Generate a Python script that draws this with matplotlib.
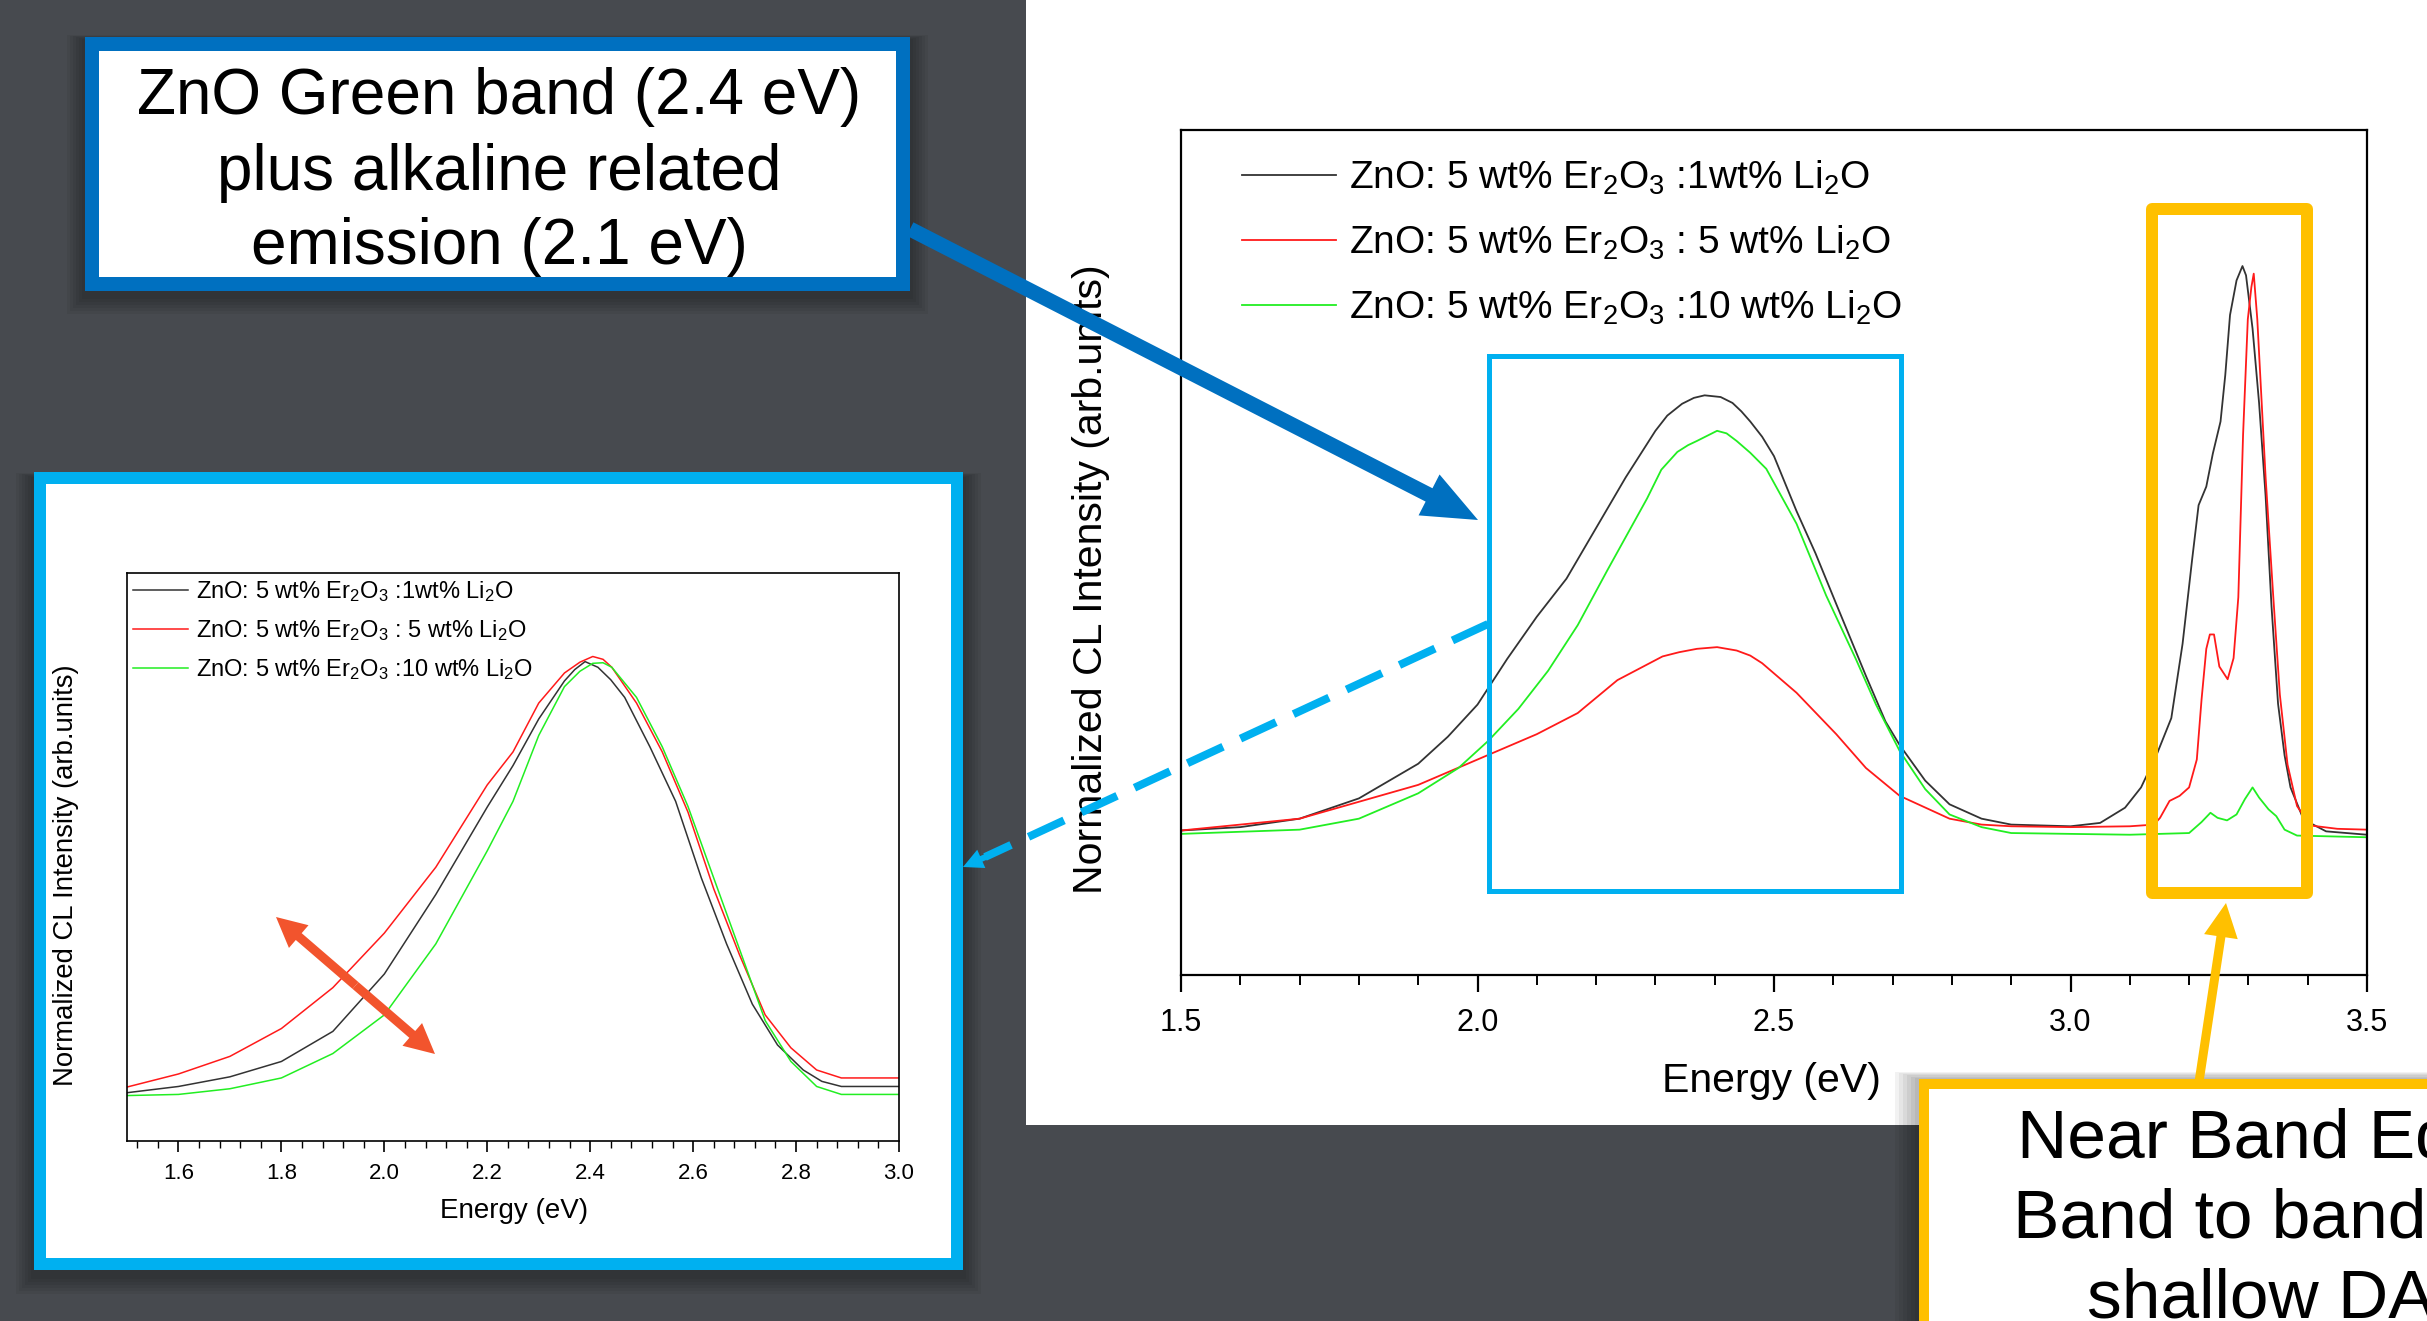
import matplotlib.pyplot as plt
from matplotlib.patches import Rectangle, FancyArrow
from matplotlib.ticker import MultipleLocator, AutoMinorLocator, FormatStrFormatter

plt.rcParams['font.family'] = ['Liberation Sans', 'DejaVu Sans']

W, H = 2427, 1321

# legend labels (same in both charts)
series_labels = [
    'ZnO: 5 wt% Er$\\mathregular{_2}$O$\\mathregular{_3}$ :1wt% Li$\\mathregular{_2}$O',
    'ZnO: 5 wt% Er$\\mathregular{_2}$O$\\mathregular{_3}$ : 5 wt% Li$\\mathregular{_2}$O',
    'ZnO: 5 wt% Er$\\mathregular{_2}$O$\\mathregular{_3}$ :10 wt% Li$\\mathregular{_2}$O',
]
series_colors = ['#333333', '#ff1a1a', '#22ee22']

# main chart, full range (normalized CL intensity, arb. units)
main_e_black = [1.50, 1.60, 1.70, 1.80, 1.90, 1.95, 2.00, 2.05, 2.10, 2.15, 2.20, 2.25, 2.30,
                2.32, 2.345, 2.365, 2.383, 2.41, 2.43, 2.445, 2.46, 2.48, 2.50, 2.538, 2.57,
                2.605, 2.655, 2.688, 2.712, 2.755, 2.796, 2.85, 2.90, 3.00, 3.05, 3.092, 3.119,
                3.146, 3.170, 3.189, 3.205, 3.216, 3.229, 3.240, 3.253, 3.261, 3.269, 3.280,
                3.290, 3.296, 3.307, 3.318, 3.329, 3.339, 3.350, 3.361, 3.371, 3.393, 3.431,
                3.50]
main_black = [.171, .175, .185, .209, .250, .282, .320, .374, .424, .469, .529, .589, .644,
              .662, .676, .683, .686, .684, .677, .667, .655, .637, .614, .549, .499,
              .439, .354, .300, .272, .230, .202, .185, .178, .176, .180, .198, .222,
              .262, .304, .392, .491, .556, .578, .617, .655, .710, .781, .822,
              .839, .828, .765, .677, .567, .436, .321, .260, .222, .184, .170,
              .166]

main_e_red = [1.50, 1.70, 1.80, 1.90, 2.00, 2.10, 2.169, 2.236, 2.312, 2.34, 2.37, 2.404, 2.437,
              2.46, 2.48, 2.538, 2.605, 2.655, 2.712, 2.796, 2.85, 2.90, 3.00, 3.10, 3.141,
              3.151, 3.167, 3.184, 3.200, 3.213, 3.221, 3.229, 3.235, 3.242, 3.251, 3.265,
              3.275, 3.283, 3.291, 3.299, 3.305, 3.309, 3.315, 3.329, 3.342, 3.353, 3.366,
              3.382, 3.404, 3.45, 3.50]
main_red = [.171, .185, .205, .225, .255, .285, .310, .349, .377, .382, .386, .388, .384,
            .378, .369, .334, .285, .245, .212, .185, .178, .176, .175, .176, .178,
            .186, .206, .212, .222, .255, .326, .386, .403, .403, .365, .350,
            .375, .447, .639, .776, .814, .830, .776, .589, .447, .332, .249,
            .200, .177, .173, .172]

main_e_green = [1.50, 1.70, 1.80, 1.90, 1.968, 2.018, 2.069, 2.119, 2.169, 2.219, 2.286, 2.31,
                2.337, 2.355, 2.37, 2.404, 2.42, 2.437, 2.46, 2.487, 2.538, 2.588, 2.638,
                2.672, 2.712, 2.755, 2.796, 2.85, 2.90, 3.10, 3.20, 3.221, 3.236, 3.248, 3.264,
                3.280, 3.294, 3.307, 3.318, 3.334, 3.347, 3.361, 3.382, 3.50]
main_green = [.167, .172, .185, .215, .245, .277, .315, .360, .414, .479, .564, .598,
              .619, .627, .632, .644, .641, .632, .618, .599, .534, .449, .374,
              .320, .265, .220, .190, .175, .168, .166, .168, .181, .192, .186, .183,
              .190, .208, .222, .210, .196, .188, .172, .165, .163]

# inset chart, green band only
inset_e_black = [1.5, 1.6, 1.7, 1.8, 1.9, 2.0, 2.1, 2.2, 2.25, 2.3, 2.35, 2.37, 2.39, 2.415,
                 2.44, 2.467, 2.516, 2.566, 2.616, 2.665, 2.715, 2.764, 2.814, 2.85, 2.888, 3.0]
inset_black = [.085, .096, .113, .140, .193, .294, .434, .588, .661, .743, .810, .830, .844,
               .834, .812, .781, .694, .598, .463, .347, .241, .169, .125, .105, .096, .096]
inset_e_red = [1.5, 1.6, 1.7, 1.8, 1.9, 2.0, 2.1, 2.2, 2.25, 2.3, 2.35, 2.38, 2.405, 2.425,
               2.442, 2.49, 2.54, 2.59, 2.64, 2.69, 2.74, 2.79, 2.84, 2.888, 3.0]
inset_red = [.095, .118, .149, .198, .270, .366, .482, .627, .685, .771, .824, .843, .853,
             .848, .834, .771, .685, .579, .444, .328, .222, .164, .125, .111, .111]
inset_e_green = [1.5, 1.6, 1.7, 1.8, 1.9, 2.0, 2.1, 2.2, 2.25, 2.3, 2.35, 2.38, 2.405, 2.425,
                 2.442, 2.49, 2.54, 2.59, 2.64, 2.69, 2.74, 2.79, 2.84, 2.888, 3.0]
inset_green = [.080, .082, .092, .111, .154, .222, .347, .511, .598, .714, .800, .827, .841,
               .842, .834, .781, .694, .589, .463, .338, .212, .140, .096, .082, .082]

callout_green = ['ZnO Green band (2.4 eV)', 'plus alkaline related', 'emission (2.1 eV)']
callout_nbe = ['Near Band Edge (NBE)', 'Band to band and', 'shallow DAP']

BLUE = '#0070c0'
CYAN = '#00b0f0'
ORANGE = '#ffc000'


def fax(l, t, r, b):
    # pixel box -> figure fraction
    return [l / W, 1 - b / H, (r - l) / W, (b - t) / H]


def px(v):
    return v * 0.72


def soft_shadow(axis, x, y, w, h, spread=18, steps=6):
    # stack of faint rectangles, fakes a blurred drop shadow
    for k in range(steps):
        g = spread * (steps - k) / steps
        axis.add_patch(Rectangle((x - g, y - g * 0.3), w + 2 * g, h + 1.3 * g,
                                 fc='black', ec='none', alpha=0.05))


fig = plt.figure(figsize=(W / 100, H / 100), dpi=100, facecolor='#474a4f')

bg = fig.add_axes([0, 0, 1, 1], zorder=0)
bg.set_xlim(0, W)
bg.set_ylim(H, 0)
bg.axis('off')
bg.add_patch(Rectangle((1026, 0), W - 1026, 1125, fc='white', ec='none'))
soft_shadow(bg, 34, 478, 929, 798)
bg.add_patch(Rectangle((40, 478), 917, 786, fc='white', ec=CYAN, lw=px(12)))

# ---- main chart ----
ax = fig.add_axes(fax(1181, 130, 2367, 975), zorder=2)
lines = []
for e, v, c in [(main_e_black, main_black, series_colors[0]),
                (main_e_red, main_red, series_colors[1]),
                (main_e_green, main_green, series_colors[2])]:
    ln, = ax.plot(e, v, color=c, lw=1.3)
    lines.append(ln)
ax.set_xlim(1.5, 3.5)
ax.set_ylim(0, 1)
ax.xaxis.set_major_locator(MultipleLocator(0.5))
ax.xaxis.set_minor_locator(MultipleLocator(0.1))
ax.xaxis.set_major_formatter(FormatStrFormatter('%.1f'))
ax.set_yticks([])
ax.tick_params(axis='x', which='major', direction='out', length=12, width=1.6, labelsize=22, pad=12)
ax.tick_params(axis='x', which='minor', direction='out', length=7, width=1.4)
for s in ax.spines.values():
    s.set_linewidth(1.6)
ax.set_xlabel('Energy (eV)', fontsize=29.5)
ax.xaxis.set_label_coords(0.498, -0.103)
ax.set_ylabel('Normalized CL Intensity (arb.units)', fontsize=29.5)
ax.yaxis.set_label_coords(-0.060, 0.468)
ax.legend(lines, series_labels, loc='upper left', bbox_to_anchor=(0.0514, 0.966),
          frameon=False, fontsize=28, handlelength=2.43, handletextpad=0.33,
          labelspacing=0.68, borderpad=0, borderaxespad=0)
ax.add_patch(Rectangle((2.02, 0.099), 0.694, 0.634, fill=False, ec=CYAN, lw=px(5), zorder=4))
ax.add_patch(Rectangle((3.137, 0.097), 0.262, 0.810, fill=False, ec=ORANGE, lw=px(12),
                       joinstyle='round', zorder=4))

# ---- inset chart ----
ax2 = fig.add_axes(fax(127, 573, 899, 1141), zorder=2)
lines2 = []
for e, v, c in [(inset_e_black, inset_black, series_colors[0]),
                (inset_e_red, inset_red, series_colors[1]),
                (inset_e_green, inset_green, series_colors[2])]:
    ln, = ax2.plot(e, v, color=c, lw=1.1)
    lines2.append(ln)
ax2.set_xlim(1.5, 3.0)
ax2.set_ylim(0, 1)
ax2.xaxis.set_major_locator(MultipleLocator(0.2))
ax2.xaxis.set_minor_locator(AutoMinorLocator(5))
ax2.xaxis.set_major_formatter(FormatStrFormatter('%.1f'))
ax2.set_yticks([])
ax2.tick_params(axis='x', which='major', direction='out', length=8, width=1.2, labelsize=16, pad=8)
ax2.tick_params(axis='x', which='minor', direction='out', length=5, width=1.0)
for s in ax2.spines.values():
    s.set_linewidth(1.2)
ax2.set_xlabel('Energy (eV)', fontsize=20)
ax2.xaxis.set_label_coords(0.501, -0.100)
ax2.set_ylabel('Normalized CL Intensity (arb.units)', fontsize=19.8)
ax2.yaxis.set_label_coords(-0.062, 0.468)
ax2.legend(lines2, series_labels, loc='upper left', bbox_to_anchor=(0.008, 0.989),
           frameon=False, fontsize=17, handlelength=2.33, handletextpad=0.34,
           labelspacing=0.6, borderpad=0, borderaxespad=0)

# ---- overlay: callouts and arrows ----
ov = fig.add_axes([0, 0, 1, 1], zorder=5)
ov.set_xlim(0, W)
ov.set_ylim(H, 0)
ov.axis('off')
ov.patch.set_visible(False)

# top-left callout
soft_shadow(ov, 85, 40, 825, 256)
ov.add_patch(Rectangle((92, 44), 811, 240, fc='white', ec=BLUE, lw=px(14)))
for txt, yb in zip(callout_green, [114, 190, 264]):
    ov.text(499, yb, txt, ha='center', va='baseline', fontsize=46, color='black')

# bottom-right callout (runs off the slide edge, as in the source)
soft_shadow(ov, 1919, 1079, 600, 300, spread=24)
ov.add_patch(Rectangle((1924, 1084), 600, 300, fc='white', ec=ORANGE, lw=px(10)))
for txt, x0, yb in zip(callout_nbe, [2017, 2013, 2087], [1158, 1238, 1318]):
    ov.text(x0, yb, txt, ha='left', va='baseline', fontsize=50, color='black')

# blue arrow: callout -> green band box
ov.add_patch(FancyArrow(910, 229, 1478 - 910, 520 - 229, width=15, head_width=46,
                        head_length=55, length_includes_head=True, fc=BLUE, ec='none'))

# dashed cyan link: green band box -> inset
ov.plot([1488, 985], [624, 857], color=CYAN, lw=px(8), ls=(0, (4.9, 2.4)))
ov.add_patch(FancyArrow(990, 855, 963 - 990, 867 - 855, width=6, head_width=20,
                        head_length=20, length_includes_head=True, fc=CYAN, ec='none'))

# orange arrow: NBE callout -> NBE box
ov.add_patch(FancyArrow(2199, 1082, 2226 - 2199, 903 - 1082, width=9, head_width=34,
                        head_length=34, length_includes_head=True, fc=ORANGE, ec='none'))

# double-headed arrow in the inset
mx, my = (276 + 435) / 2, (917 + 1054) / 2
for ex, ey in [(276, 917), (435, 1054)]:
    ov.add_patch(FancyArrow(mx, my, ex - mx, ey - my, width=9, head_width=30,
                            head_length=30, length_includes_head=True, fc='#f2542d', ec='none'))

fig.savefig('out.png', dpi=100, facecolor=fig.get_facecolor())
